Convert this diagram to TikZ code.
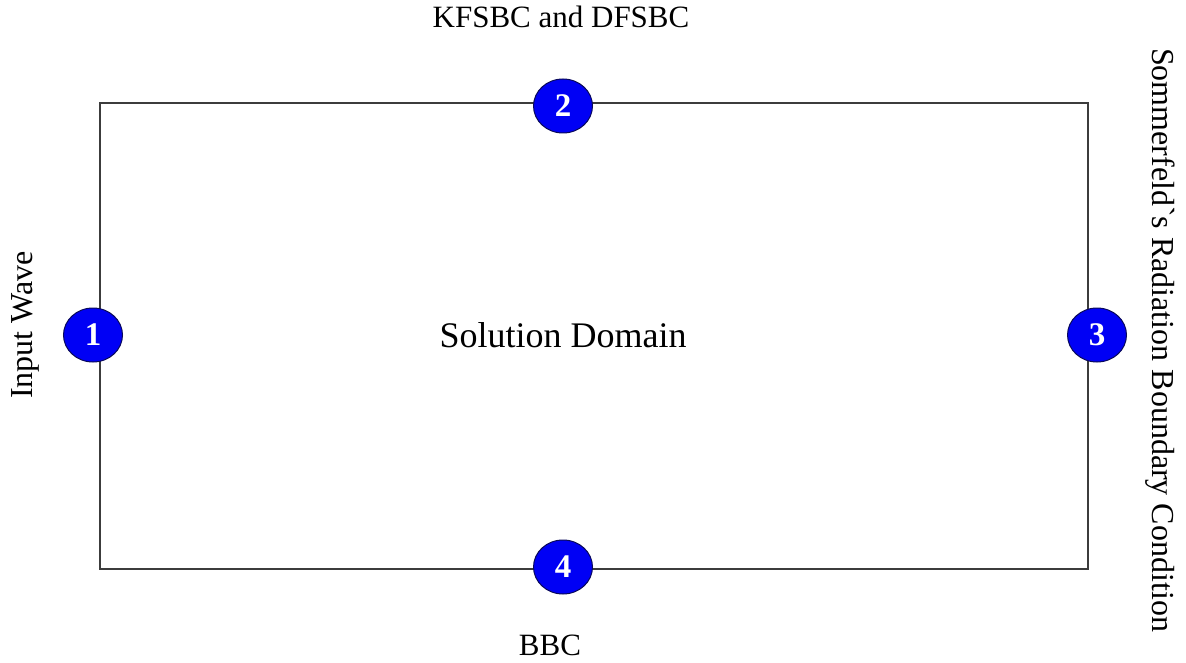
\documentclass[tikz,border=0pt]{standalone}
\usepackage{fontspec}
\setmainfont{Liberation Serif}
\usetikzlibrary{shapes.geometric}
\definecolor{bcblue}{RGB}{0,0,245}
\definecolor{bcedge}{RGB}{10,10,90}
\definecolor{edgegray}{RGB}{60,60,60}
\tikzset{
  bnum/.style={ellipse, fill=bcblue, draw=bcedge, line width=1pt,
    minimum width=59pt, minimum height=54pt, inner sep=0pt,
    text=white, font=\fontsize{33}{35}\selectfont\bfseries},
  lbl/.style={font=\fontsize{31}{36}\selectfont, inner sep=0pt},
  border/.style={draw=edgegray, line width=1.4pt}
}
\begin{document}
\begin{tikzpicture}[x=1pt,y=-1pt]
\useasboundingbox[fill=white] (0,0) rectangle (1186,663);
\coordinate (tl) at (100,103);
\coordinate (tr) at (1088,103);
\coordinate (br) at (1088,569);
\coordinate (bl) at (100,569);
\draw[border] (tl) -- (tr) -- (br) -- (bl) -- cycle;
\node[bnum] (n1) at (93,335) {1};
\node[bnum] (n2) at (563,106) {2};
\node[bnum] (n3) at (1097,335) {3};
\node[bnum] (n4) at (563,567) {4};
\node[lbl, anchor=base] (top) at (561,28) {KFSBC and DFSBC};
\node[lbl, anchor=base] (bot) at (550,655) {BBC};
\node[lbl, anchor=base, font=\fontsize{36}{40}\selectfont] (mid) at (563,347) {Solution Domain};
\node[lbl, rotate=90, font=\fontsize{32}{36}\selectfont] (left) at (25,325) {Input Wave};
\node[lbl, rotate=-90, font=\fontsize{32}{36}\selectfont] (right) at (1160,340) {Sommerfeld\textasciigrave s Radiation Boundary Condition};
\end{tikzpicture}
\end{document}
